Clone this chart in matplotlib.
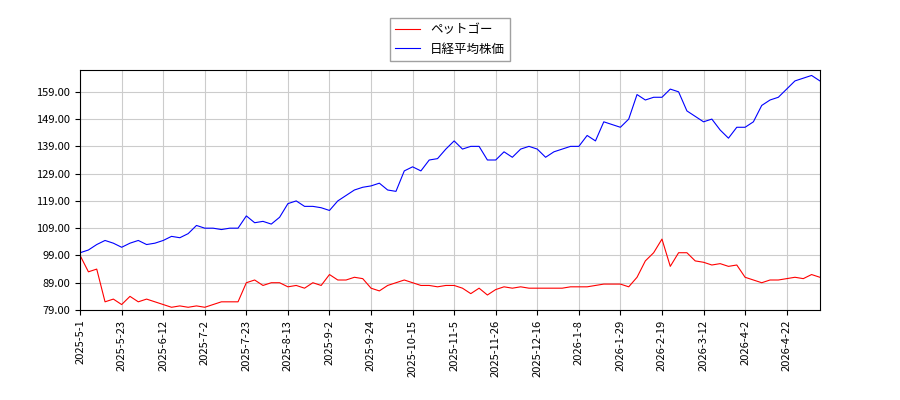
import numpy as np
import matplotlib.pyplot as plt

plt.rcParams['font.family'] = ['Noto Sans CJK JP', 'DejaVu Sans']

# values sampled every 3 trading days
nikkei = [100, 101, 103, 104.5, 103.5, 102, 103.5, 104.5, 103, 103.5,
          104.5, 106, 105.5, 107, 110, 109, 109, 108.5, 109, 109,
          113.5, 111, 111.5, 110.5, 113, 118, 119, 117, 117, 116.5,
          115.5, 119, 121, 123, 124, 124.5, 125.5, 123, 122.5, 130,
          131.5, 130, 134, 134.5, 138, 141, 138, 139, 139, 134,
          134, 137, 135, 138, 139, 138, 135, 137, 138, 139,
          139, 143, 141, 148, 147, 146, 149, 158, 156, 157,
          157, 160, 159, 152, 150, 148, 149, 145, 142, 146,
          146, 148, 154, 156, 157, 160, 163, 164, 165, 163]
pet = [99, 93, 94, 82, 83, 81, 84, 82, 83, 82,
       81, 80, 80.5, 80, 80.5, 80, 81, 82, 82, 82,
       89, 90, 88, 89, 89, 87.5, 88, 87, 89, 88,
       92, 90, 90, 91, 90.5, 87, 86, 88, 89, 90,
       89, 88, 88, 87.5, 88, 88, 87, 85, 87, 84.5,
       86.5, 87.5, 87, 87.5, 87, 87, 87, 87, 87, 87.5,
       87.5, 87.5, 88, 88.5, 88.5, 88.5, 87.5, 91, 97, 100,
       105, 95, 100, 100, 97, 96.5, 95.5, 96, 95, 95.5,
       91, 90, 89, 90, 90, 90.5, 91, 90.5, 92, 91]
tick_labels = ['2025-5-1', '2025-5-23', '2025-6-12', '2025-7-2', '2025-7-23',
               '2025-8-13', '2025-9-2', '2025-9-24', '2025-10-15', '2025-11-5',
               '2025-11-26', '2025-12-16', '2026-1-8', '2026-1-29', '2026-2-19',
               '2026-3-12', '2026-4-2', '2026-4-22']

x = np.arange(len(nikkei)) * 3

fig = plt.figure(figsize=(9, 4), dpi=100)
ax = fig.add_axes([0.089, 0.225, 0.822, 0.6])
ax.plot(x, pet, color='red', linewidth=0.8, label='ペットゴー')
ax.plot(x, nikkei, color='blue', linewidth=0.8, label='日経平均株価')

ax.set_xlim(0, x[-1])
ax.set_ylim(79, 167)
ax.set_yticks(np.arange(79, 160, 10))
ax.set_yticklabels([f'{v:.2f}' for v in np.arange(79, 160, 10)], fontsize=8)
ax.set_xticks(np.arange(len(tick_labels)) * 15)
ax.set_xticklabels(tick_labels, rotation=90, fontsize=8)
ax.grid(True, color='#cccccc')
fig.legend(loc='upper center', bbox_to_anchor=(0.5, 0.97), fontsize=9,
           fancybox=False, edgecolor='#888888')

plt.savefig('out.png', dpi=100)
